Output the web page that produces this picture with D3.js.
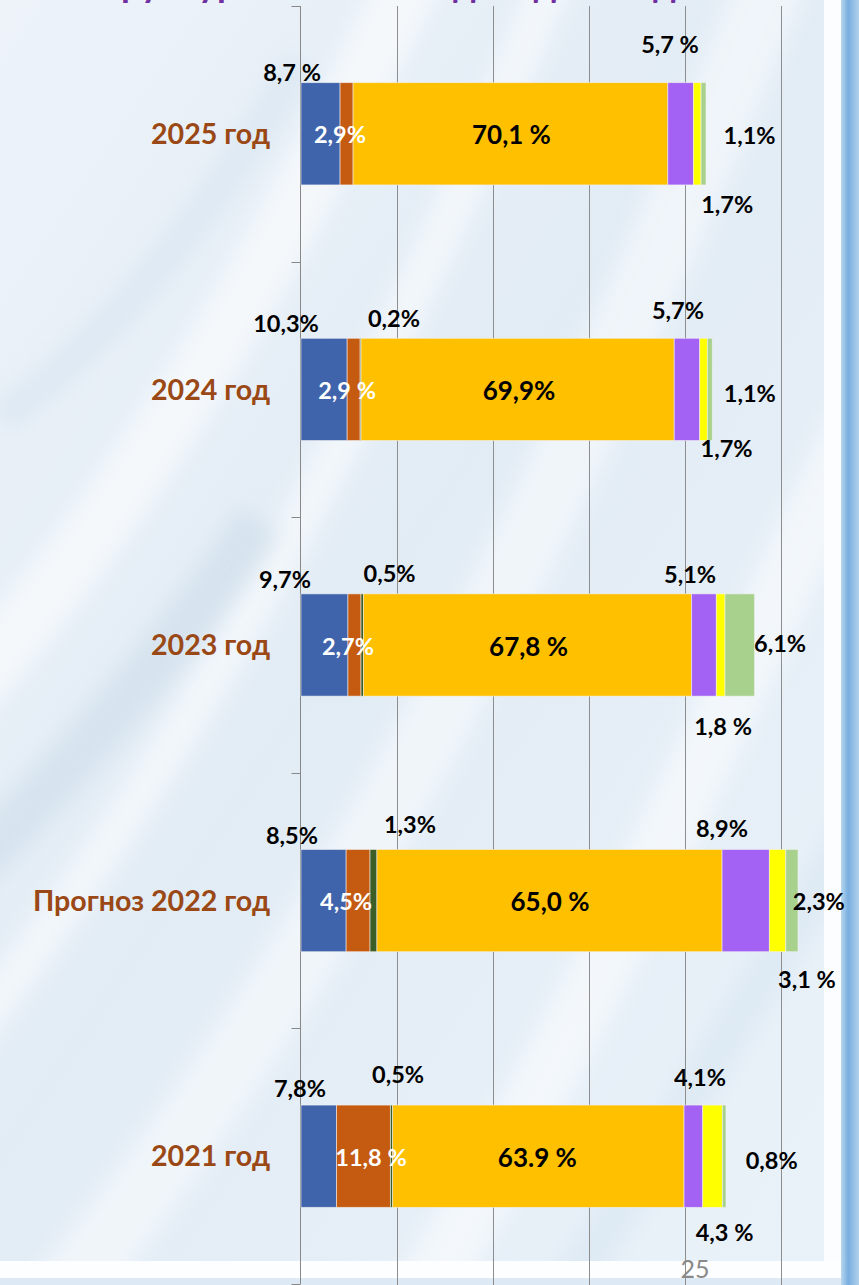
<!DOCTYPE html>
<html>
<head>
<meta charset="utf-8">
<script src="https://cdn.jsdelivr.net/npm/d3@7"></script>
<style>
html, body { margin: 0; padding: 0; overflow: hidden; background: #e6eff7; }
svg { display: block; }
</style>
</head>
<body>
<svg id="chart" width="859" height="1285"></svg>
<script>
// Categories (top to bottom)
const years = ['2025 год', '2024 год', '2023 год', 'Прогноз 2022 год', '2021 год'];

// Bar length that corresponds to 100 %, in axis units (gridline = 1000)
const totals = [4677, 4667, 5042, 5531, 4750];

// Shares, %, per series (same order as years)
const shareBlue       = [8.7, 10.3, 9.7, 8.5, 7.8];
const shareOrange     = [2.9, 2.9, 2.7, 4.5, 11.8];
const shareDarkGreen  = [0, 0.2, 0.5, 1.3, 0.5];
const shareGold       = [70.1, 69.9, 67.8, 65.0, 63.9];
const sharePurple     = [5.7, 5.7, 5.1, 8.9, 4.1];
const shareYellow     = [1.7, 1.7, 1.8, 3.1, 4.3];
const shareLightGreen = [1.1, 1.1, 6.1, 2.3, 0.8];

// Label texts as printed on the slide
const textBlue       = ['8,7 %', '10,3%', '9,7%', '8,5%', '7,8%'];
const textOrange     = ['2,9%', '2,9 %', '2,7%', '4,5%', '11,8 %'];
const textDarkGreen  = [null, '0,2%', '0,5%', '1,3%', '0,5%'];
const textGold       = ['70,1 %', '69,9%', '67,8 %', '65,0 %', '63.9 %'];
const textPurple     = ['5,7 %', '5,7%', '5,1%', '8,9%', '4,1%'];
const textYellow     = ['1,7%', '1,7%', '1,8 %', '3,1 %', '4,3 %'];
const textLightGreen = ['1,1%', '1,1%', '6,1%', '2,3%', '0,8%'];

const pageNumber = '25';

// Label nudges [dx, dy] relative to segment centre / band centre
const nudgeBlue       = [[-28.5, -53], [-38, -57.4], [-39.5, -57.3], [-31.6, -56.6], [-18.8, -59.5]];
const nudgeOrange     = [[-6.6, 9], [-6.6, 9.6], [-6.5, 10], [-12, 9.4], [7.5, 9.8]];
const nudgeDarkGreen  = [null, [33.4, -62], [27.3, -62.7], [36.5, -68], [6.5, -72.9]];
const nudgeGold       = [[1, 10], [1.4, 10.6], [1, 10.7], [0.5, 10.4], [-1, 10.5]];
const nudgePurple     = [[-10.6, -81], [-9, -70.4], [-13.9, -61.7], [-23.7, -63.3], [6.6, -70.2]];
const nudgeYellow     = [[30, 79], [23, 67.3], [2.4, 90], [29.4, 87.7], [12, 84.8]];
const nudgeLightGreen = [[46, 10], [40, 12.3], [40.3, 7.3], [27, 9.4], [47.5, 13.1]];

const series = [
    {key: 'blue',       shares: shareBlue,       texts: textBlue,       nudge: nudgeBlue,       color: '#4064ac', ink: '#000', size: 23.5},
    {key: 'orange',     shares: shareOrange,     texts: textOrange,     nudge: nudgeOrange,     color: '#c55a11', ink: '#fff', size: 23.5},
    {key: 'darkGreen',  shares: shareDarkGreen,  texts: textDarkGreen,  nudge: nudgeDarkGreen,  color: '#3b5e27', ink: '#000', size: 23.5},
    {key: 'gold',       shares: shareGold,       texts: textGold,       nudge: nudgeGold,       color: '#ffc000', ink: '#000', size: 26},
    {key: 'purple',     shares: sharePurple,     texts: textPurple,     nudge: nudgePurple,     color: '#a362f4', ink: '#000', size: 23.5},
    {key: 'yellow',     shares: shareYellow,     texts: textYellow,     nudge: nudgeYellow,     color: '#ffff00', ink: '#000', size: 23.5},
    {key: 'lightGreen', shares: shareLightGreen, texts: textLightGreen, nudge: nudgeLightGreen, color: '#a9d18e', ink: '#000', size: 23.5}
];

const W = 859, H = 1285;
const svg = d3.select('#chart');
const defs = svg.append('defs');

// ---- background (slide texture) ----
const bgGrad = defs.append('linearGradient')
    .attr('id', 'bgGrad')
    .attr('x1', 0).attr('y1', 0).attr('x2', 1).attr('y2', 1);
bgGrad.append('stop').attr('offset', '0%').attr('stop-color', '#edf3f9');
bgGrad.append('stop').attr('offset', '45%').attr('stop-color', '#e2ecf5');
bgGrad.append('stop').attr('offset', '100%').attr('stop-color', '#eaf2f9');

const sideGrad = defs.append('linearGradient')
    .attr('id', 'sideGrad')
    .attr('x1', 0).attr('y1', 0).attr('x2', 1).attr('y2', 0);
sideGrad.append('stop').attr('offset', '0%').attr('stop-color', '#b9d7ef');
sideGrad.append('stop').attr('offset', '40%').attr('stop-color', '#78aedf');
sideGrad.append('stop').attr('offset', '100%').attr('stop-color', '#b2d1ec');

defs.append('filter').attr('id', 'soft')
    .attr('x', '-20%').attr('y', '-20%').attr('width', '140%').attr('height', '140%')
    .append('feGaussianBlur').attr('stdDeviation', 10);

const bg = svg.append('g').attr('class', 'background');
bg.append('rect').attr('width', W).attr('height', H).attr('fill', 'url(#bgGrad)');

// soft streaks of the marbled texture
const streaks = [
    {d: 'M-40,700 C120,520 260,300 420,-40', w: 60, c: '#ffffff', o: 0.55},
    {d: 'M-40,1050 C150,800 330,520 560,-40', w: 40, c: '#ffffff', o: 0.5},
    {d: 'M60,1300 C300,1000 520,620 780,-40', w: 70, c: '#ffffff', o: 0.45},
    {d: 'M-60,900 C80,760 180,640 260,520', w: 50, c: '#c9d9e8', o: 0.5},
    {d: 'M420,1300 C600,1000 700,760 860,420', w: 60, c: '#ffffff', o: 0.5},
    {d: 'M0,420 C120,330 220,200 300,60', w: 35, c: '#d5e3ef', o: 0.5},
    {d: 'M560,1300 C680,1120 760,980 860,820', w: 40, c: '#d3e2ef', o: 0.45}
];
bg.selectAll('path.streak')
    .data(streaks)
    .enter().append('path')
    .attr('class', 'streak')
    .attr('d', d => d.d)
    .attr('fill', 'none')
    .attr('stroke', d => d.c)
    .attr('stroke-width', d => d.w)
    .attr('stroke-opacity', d => d.o)
    .attr('filter', 'url(#soft)');

// slide frame: white strips and blue edge
bg.append('rect').attr('x', 824).attr('y', 0).attr('width', 17).attr('height', H).attr('fill', '#fcfdfe');
bg.append('rect').attr('x', 841).attr('y', 0).attr('width', 18).attr('height', H).attr('fill', 'url(#sideGrad)');
bg.append('rect').attr('x', 0).attr('y', 1261).attr('width', 841).attr('height', 17).attr('fill', '#fdfeff');
bg.append('rect').attr('x', 0).attr('y', 1278).attr('width', 841).attr('height', 7).attr('fill', '#dde9f4');

// title, mostly above the visible area (as on the slide)
svg.append('text')
    .attr('x', 420)
    .attr('y', -3)
    .attr('text-anchor', 'middle')
    .style('font-family', 'Lato, "Open Sans", sans-serif')
    .style('font-weight', 'bold')
    .style('font-size', '36px')
    .style('fill', '#7030a0')
    .text('Структура налоговых доходов бюджета');

// ---- scales ----
const x = d3.scaleLinear()
    .domain([0, 5000])
    .range([301, 781]);

const y = d3.scaleBand()
    .domain(years)
    .range([6, 1284])
    .paddingInner(0.6)
    .paddingOuter(0.3);

// ---- stacked data ----
const table = years.map((yr, i) => {
    const row = {year: yr, index: i};
    series.forEach(s => { row[s.key] = totals[i] * s.shares[i] / 100; });
    return row;
});

const stack = d3.stack().keys(series.map(s => s.key));
const layers = stack(table);

// ---- grid ----
const grid = svg.append('g').attr('class', 'grid');
grid.selectAll('line')
    .data(x.ticks(5).filter(t => t > 0))
    .enter().append('line')
    .attr('x1', d => Math.round(x(d)) + 0.5)
    .attr('x2', d => Math.round(x(d)) + 0.5)
    .attr('y1', y.range()[0])
    .attr('y2', H)
    .attr('stroke', '#8e8e8e')
    .attr('stroke-width', 1);

// ---- category axis: line plus ticks between categories ----
const axisX = Math.round(x(0)) - 0.5;
const half = y.step() * y.paddingInner() / 2;
const tickPos = [y.range()[0]]
    .concat(years.slice(1).map(c => y(c) - half))
    .concat([y.range()[1]]);

const axis = svg.append('g').attr('class', 'axis');
axis.append('line')
    .attr('x1', axisX).attr('x2', axisX)
    .attr('y1', y.range()[0]).attr('y2', y.range()[1])
    .attr('stroke', '#888')
    .attr('stroke-width', 1);
axis.selectAll('line.tick')
    .data(tickPos)
    .enter().append('line')
    .attr('class', 'tick')
    .attr('x1', axisX - 9).attr('x2', axisX)
    .attr('y1', d => Math.round(d) + 0.5)
    .attr('y2', d => Math.round(d) + 0.5)
    .attr('stroke', '#888')
    .attr('stroke-width', 1);

axis.selectAll('text')
    .data(years)
    .enter().append('text')
    .attr('x', 270)
    .attr('y', d => y(d) + y.bandwidth() / 2)
    .attr('dy', '0.36em')
    .attr('text-anchor', 'end')
    .style('font-family', 'Lato, "Open Sans", sans-serif')
    .style('font-weight', 'bold')
    .style('font-size', '28.6px')
    .style('fill', '#9a4815')
    .text(d => d);

// ---- bars ----
const bars = svg.append('g').attr('class', 'bars');
const layerG = bars.selectAll('g')
    .data(layers)
    .enter().append('g')
    .attr('fill', (d, i) => series[i].color);

layerG.selectAll('rect')
    .data(d => d.filter(p => p[1] > p[0]))
    .enter().append('rect')
    .attr('x', d => x(d[0]))
    .attr('y', d => y(d.data.year))
    .attr('width', d => x(d[1]) - x(d[0]))
    .attr('height', y.bandwidth())
    .attr('stroke', '#f2f2f2')
    .attr('stroke-opacity', 0.7)
    .attr('stroke-width', 0.8);

// ---- labels ----
const labels = svg.append('g').attr('class', 'labels');
layers.forEach((layer, si) => {
    const s = series[si];
    layer.forEach((p, yi) => {
        const txt = s.texts[yi];
        if (!txt) return;
        const n = s.nudge[yi];
        const cx = x((p[0] + p[1]) / 2);
        const cy = y(p.data.year) + y.bandwidth() / 2;
        labels.append('text')
            .attr('x', cx + n[0])
            .attr('y', cy + n[1])
            .attr('text-anchor', 'middle')
            .style('font-family', 'Lato, "Open Sans", sans-serif')
            .style('font-weight', 'bold')
            .style('font-size', s.size + 'px')
            .style('fill', s.ink)
            .text(txt);
    });
});

// page number
svg.append('text')
    .attr('x', 695)
    .attr('y', 1278)
    .attr('text-anchor', 'middle')
    .style('font-family', 'Lato, "Open Sans", sans-serif')
    .style('font-size', '25px')
    .style('fill', '#8a8a8a')
    .text(pageNumber);
</script>
</body>
</html>
